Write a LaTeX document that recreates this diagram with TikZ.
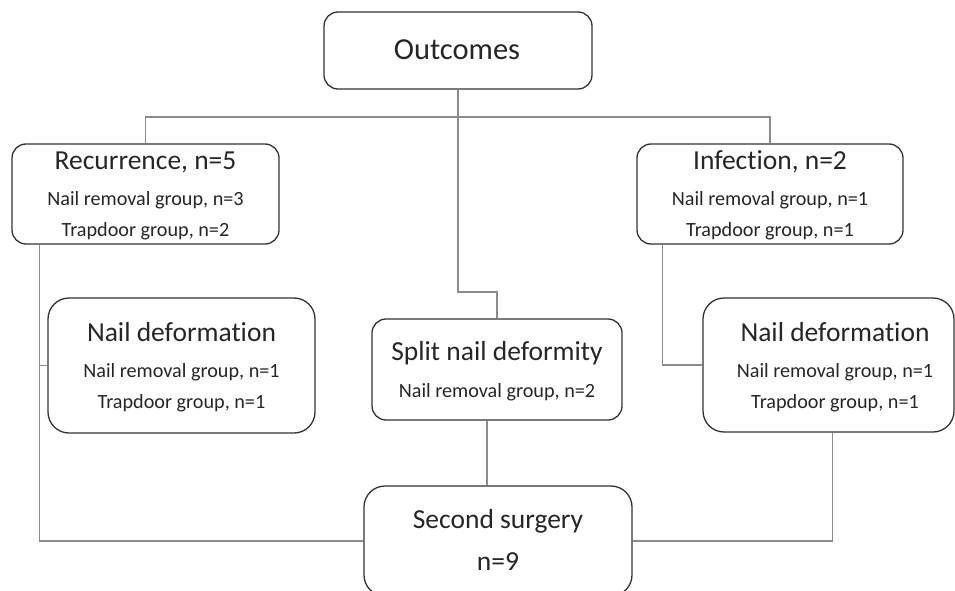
\documentclass[tikz,border=0pt]{standalone}
\usepackage{fontspec}
\setmainfont{Carlito}[Ligatures=NoCommon]

\begin{document}
\begin{tikzpicture}[x=1pt,y=-1pt,
    box/.style={rectangle,draw=black!80,line width=1.3pt,rounded corners=14pt,inner sep=0pt},
    big box/.style={box,rounded corners=21pt},
    head/.style={anchor=base,text=black!85,font=\fontsize{27.5}{30}\selectfont},
    sub/.style={anchor=base,text=black!85,font=\fontsize{20.2}{22}\selectfont},
    link/.style={draw=black!45,line width=1.6pt}]
    \useasboundingbox (0,0) rectangle (955,591);

    % boxes
    \node[box, minimum width=268, minimum height=77] (out) at (458,50.5) {};
    \node[box, minimum width=267, minimum height=100] (rec) at (145.5,194) {};
    \node[box, minimum width=266, minimum height=100] (inf) at (770,194) {};
    \node[big box, minimum width=267, minimum height=135] (lnail) at (181.5,365.5) {};
    \node[box, minimum width=250, minimum height=101] (split) at (497,369.5) {};
    \node[big box, minimum width=251, minimum height=134] (rnail) at (828.5,365) {};
    \node[big box, minimum width=268, minimum height=110] (surg) at (498,541) {};

    % texts
    \node[head, font=\fontsize{30.5}{32}\selectfont] (out-t) at (457,60) {Outcomes};
    \node[head] (rec-t) at (145.5,169) {Recurrence, n=5};
    \node[sub] (rec-a) at (145.5,205) {Nail removal group, n=3};
    \node[sub] (rec-b) at (145.5,236) {Trapdoor group, n=2};
    \node[head] (inf-t) at (770,169) {Infection, n=2};
    \node[sub] (inf-a) at (770,205) {Nail removal group, n=1};
    \node[sub] (inf-b) at (770,236) {Trapdoor group, n=1};
    \node[head] (lnail-t) at (181.5,341) {Nail deformation};
    \node[sub] (lnail-a) at (181.5,377) {Nail removal group, n=1};
    \node[sub] (lnail-b) at (181.5,408) {Trapdoor group, n=1};
    \node[head] (split-t) at (497,360) {Split nail deformity};
    \node[sub] (split-a) at (497,397) {Nail removal group, n=2};
    \node[head] (rnail-t) at (835,341) {Nail deformation};
    \node[sub] (rnail-a) at (835,377) {Nail removal group, n=1};
    \node[sub] (rnail-b) at (835,408) {Trapdoor group, n=1};
    \node[head] (surg-t) at (498,528) {Second surgery};
    \node[head] (surg-n) at (498,570) {n=9};

    % connectors
    \coordinate (fork) at (458,117);
    \coordinate (bend) at (458,292);
    \path[link] (out.south) -- (fork) -| (rec.north);
    \path[link] (fork) -| (inf.north);
    \path[link] (fork) -- (bend) -| (split.north);
    \path[link] ([xshift=28pt]rec.south west) |- (surg.west);
    \path[link] (lnail.west) -- ++(-8,0);
    \path[link] ([xshift=26pt]inf.south west) |- (rnail.west);
    \path[link] ([xshift=4pt]rnail.south) |- (surg.east);
    \path[link] ([xshift=-10pt]split.south) -- ([xshift=-10pt]split.south |- surg.north);
\end{tikzpicture}
\end{document}
